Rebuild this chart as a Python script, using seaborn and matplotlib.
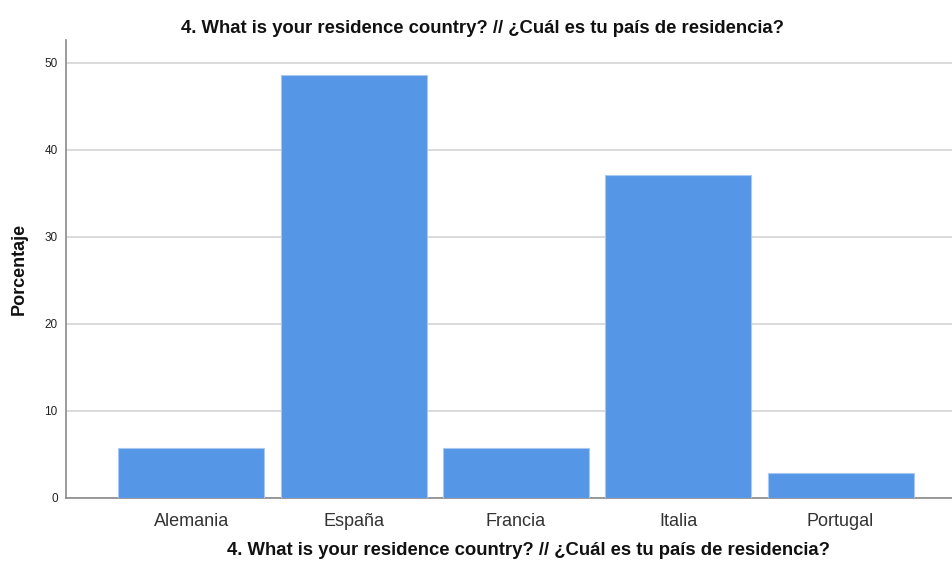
import matplotlib
matplotlib.use("Agg")
import matplotlib.pyplot as plt
import seaborn as sns
import pandas as pd

# Country of residence, percentage of respondents
countries = ['Alemania', 'España', 'Francia', 'Italia', 'Portugal']
percent = [5.71, 48.57, 5.71, 37.14, 2.86]
y_ticks = [0, 10, 20, 30, 40, 50]

title = '4. What is your residence country? // ¿Cuál es tu país de residencia?'

df = pd.DataFrame({'country': countries, 'percent': percent})

sns.set_theme(style='white')
plt.rcParams['font.family'] = ['Liberation Sans', 'DejaVu Sans']

fig = plt.figure(figsize=(9.53, 5.63), dpi=100)
ax = fig.add_axes([0.0693, 0.1155, 0.9307, 0.8135])

sns.barplot(data=df, x='country', y='percent', color='#5596e6', saturation=1,
            width=0.9, edgecolor='#a9c8f0', linewidth=0.8, ax=ax, zorder=3)

ax.set_xlim(-0.773, 4.693)
ax.set_ylim(0, 52.6)
ax.set_yticks(y_ticks)
ax.yaxis.grid(True, color='#d4d4d4', linewidth=1.2, zorder=0)
ax.set_axisbelow(True)

for s in ['top', 'right']:
    ax.spines[s].set_visible(False)
ax.spines['left'].set_color('#8a8a8a')
ax.spines['bottom'].set_color('#8a8a8a')
ax.spines['left'].set_linewidth(1.2)
ax.spines['bottom'].set_linewidth(1.2)

ax.tick_params(axis='y', length=0, labelsize=8.5, colors='#222222', pad=6)
ax.tick_params(axis='x', length=0, labelsize=13, colors='#333333', pad=11)

ax.set_xlabel('')
ax.set_ylabel('Porcentaje', fontsize=13, fontweight='bold', color='#111111', labelpad=12)

fig.text(0.506, 0.95, title, ha='center', va='center', fontsize=13.3,
         fontweight='bold', color='#111111')
fig.text(0.555, 0.022, title, ha='center', va='center', fontsize=13.3,
         fontweight='bold', color='#111111')

fig.savefig('out.png', dpi=100)
